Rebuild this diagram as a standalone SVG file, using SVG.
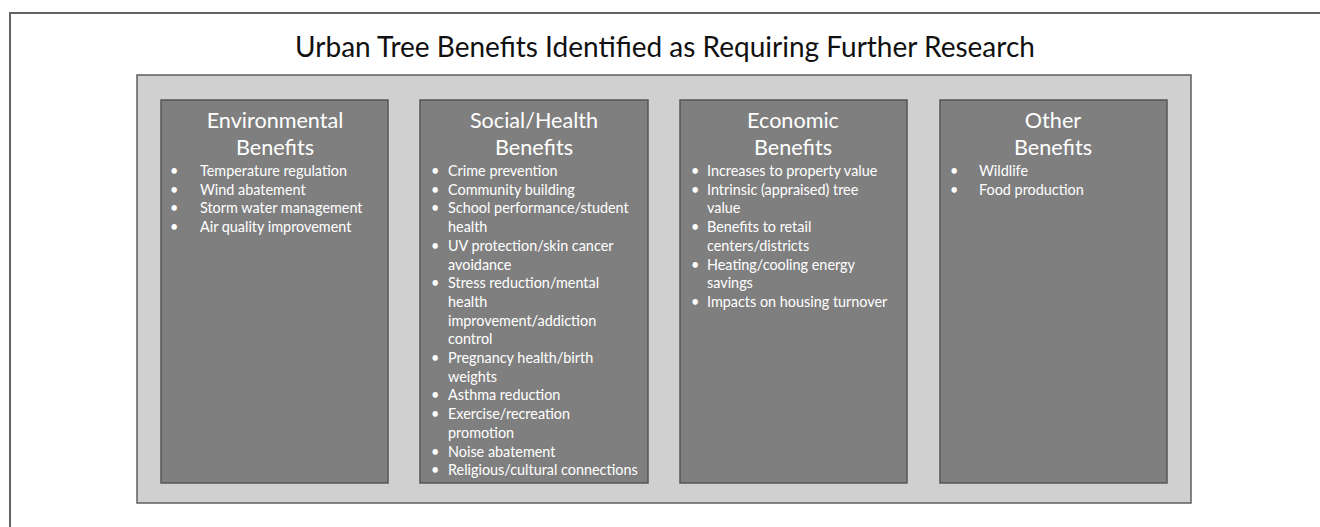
<svg xmlns="http://www.w3.org/2000/svg" width="1320" height="527" viewBox="0 0 1320 527">
<style>
.frame{fill:#ffffff;stroke:#646464;stroke-width:2}
.panel{fill:#d0d0d0;stroke:#5f5f5f;stroke-width:1.5}
.box{fill:#7f7f7f;stroke:#555555;stroke-width:1.5}
.title{font-family:Lato,"Open Sans","Liberation Sans",sans-serif;font-size:28px;fill:#111111;text-anchor:middle}
.head{font-family:Lato,"Open Sans","Liberation Sans",sans-serif;font-size:21.6px;fill:#ffffff;text-anchor:middle}
.item{font-family:Lato,"Open Sans","Liberation Sans",sans-serif;font-size:14.4px;fill:#ffffff}
</style>
<rect class="frame" x="10" y="13" width="1330" height="530"/>
<text class="title" x="665" y="57">Urban Tree Benefits Identified as Requiring Further Research</text>
<rect class="panel" x="137" y="75" width="1054" height="428"/>
<g id="environmental">
<rect class="box" x="161" y="100" width="227" height="383"/>
<text class="head" x="275" y="128">Environmental</text>
<text class="head" x="275" y="155">Benefits</text>
<g class="item">
<text x="170" y="176">•</text><text x="200" y="176">Temperature regulation</text>
<text x="170" y="194.7">•</text><text x="200" y="194.7">Wind abatement</text>
<text x="170" y="213.4">•</text><text x="200" y="213.4">Storm water management</text>
<text x="170" y="232.1">•</text><text x="200" y="232.1">Air quality improvement</text>
</g>
</g>
<g id="social">
<rect class="box" x="420" y="100" width="228" height="383"/>
<text class="head" x="534" y="128">Social/Health</text>
<text class="head" x="534" y="155">Benefits</text>
<g class="item">
<text x="431" y="176">•</text><text x="448" y="176">Crime prevention</text>
<text x="431" y="194.7">•</text><text x="448" y="194.7">Community building</text>
<text x="431" y="213.4">•</text><text x="448" y="213.4">School performance/student</text>
<text x="448" y="232.1">health</text>
<text x="431" y="250.8">•</text><text x="448" y="250.8">UV protection/skin cancer</text>
<text x="448" y="269.5">avoidance</text>
<text x="431" y="288.2">•</text><text x="448" y="288.2">Stress reduction/mental</text>
<text x="448" y="306.9">health</text>
<text x="448" y="325.6">improvement/addiction</text>
<text x="448" y="344.3">control</text>
<text x="431" y="363">•</text><text x="448" y="363">Pregnancy health/birth</text>
<text x="448" y="381.7">weights</text>
<text x="431" y="400.4">•</text><text x="448" y="400.4">Asthma reduction</text>
<text x="431" y="419.1">•</text><text x="448" y="419.1">Exercise/recreation</text>
<text x="448" y="437.8">promotion</text>
<text x="431" y="456.5">•</text><text x="448" y="456.5">Noise abatement</text>
<text x="431" y="475.2">•</text><text x="448" y="475.2">Religious/cultural connections</text>
</g>
</g>
<g id="economic">
<rect class="box" x="680" y="100" width="227" height="383"/>
<text class="head" x="793" y="128">Economic</text>
<text class="head" x="793" y="155">Benefits</text>
<g class="item">
<text x="691" y="176">•</text><text x="707" y="176">Increases to property value</text>
<text x="691" y="194.7">•</text><text x="707" y="194.7">Intrinsic (appraised) tree</text>
<text x="707" y="213.4">value</text>
<text x="691" y="232.1">•</text><text x="707" y="232.1">Benefits to retail</text>
<text x="707" y="250.8">centers/districts</text>
<text x="691" y="269.5">•</text><text x="707" y="269.5">Heating/cooling energy</text>
<text x="707" y="288.2">savings</text>
<text x="691" y="306.9">•</text><text x="707" y="306.9">Impacts on housing turnover</text>
</g>
</g>
<g id="other">
<rect class="box" x="940" y="100" width="227" height="383"/>
<text class="head" x="1053" y="128">Other</text>
<text class="head" x="1053" y="155">Benefits</text>
<g class="item">
<text x="950" y="176">•</text><text x="979" y="176">Wildlife</text>
<text x="950" y="194.7">•</text><text x="979" y="194.7">Food production</text>
</g>
</g>
<g id="connectors"/>
</svg>
